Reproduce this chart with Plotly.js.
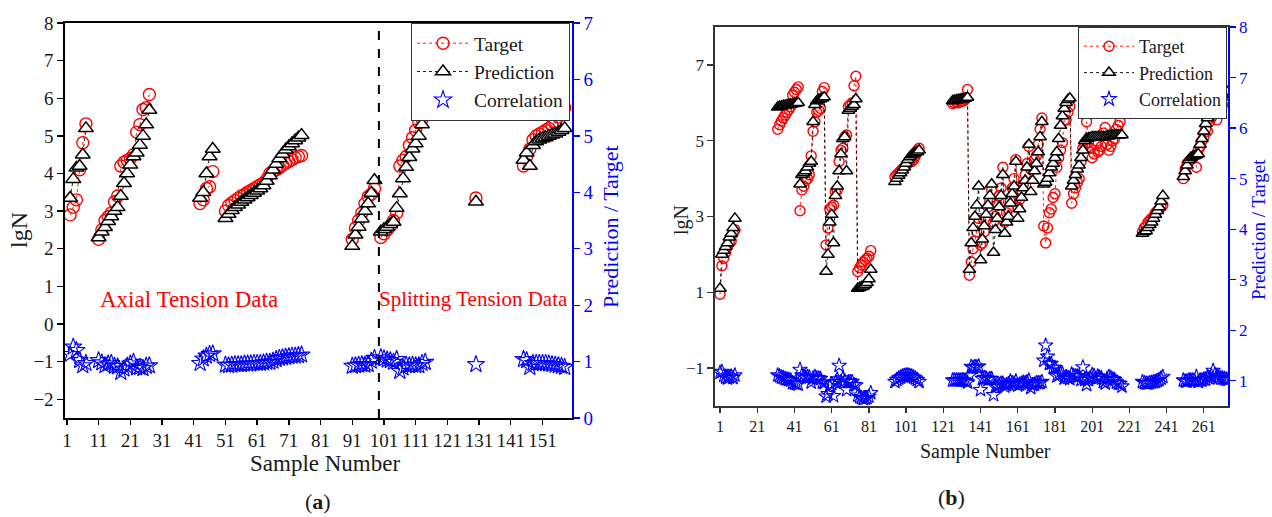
<!DOCTYPE html>
<html><head><meta charset="utf-8">
<script src="https://cdn.plot.ly/plotly-3.0.1.min.js"></script>
<style>html,body{margin:0;padding:0;background:#fff;}#chart{width:1272px;height:517px;}</style>
</head><body><div id="chart"></div>
<script>
// ---------- Panel (a) data: groups of consecutive samples ----------
const aStart = [2, 11, 43, 51, 91, 100, 130, 145];
const aTarget = [
  [2.9, 3.1, 3.3, 4.1, 4.82, 5.32],
  [2.25, 2.5, 2.75, 2.85, 2.95, 3.25, 3.4, 4.2, 4.3, 4.35, 4.4, 4.5, 5.1, 5.3, 5.7, 5.75, 6.1],
  [3.2, 3.3, 3.6, 3.65, 4.05],
  [3.0, 3.15, 3.22, 3.28, 3.34, 3.4, 3.44, 3.5, 3.55, 3.6, 3.65, 3.7, 3.75, 3.85, 4.0, 4.05, 4.1, 4.15, 4.22, 4.27, 4.32, 4.37, 4.42, 4.45, 4.48],
  [2.25, 2.55, 2.75, 2.95, 3.2, 3.38, 3.45, 3.6],
  [2.3, 2.4, 2.5, 2.6, 2.75, 2.95, 4.2, 4.35, 4.45, 4.75, 4.95, 5.15, 5.35, 5.45, 5.75],
  [3.35],
  [4.2, 4.45, 4.65, 4.9, 5.0, 5.05, 5.1, 5.15, 5.2, 5.28, 5.38, 5.5, 5.62, 5.75]
];
const aPred = [
  [3.35, 3.85, 4.15, 4.2, 4.5, 5.2],
  [2.3, 2.45, 2.57, 2.73, 2.86, 3.0, 3.1, 3.4, 3.74, 4.0, 4.23, 4.45, 4.55, 4.76, 5.0, 5.3, 5.69],
  [3.35, 3.5, 4.0, 4.45, 4.65],
  [2.81, 2.92, 3.02, 3.1, 3.17, 3.24, 3.3, 3.36, 3.42, 3.48, 3.54, 3.6, 3.68, 3.8, 3.95, 4.1, 4.25, 4.4, 4.52, 4.63, 4.72, 4.8, 4.88, 4.95, 5.02],
  [2.07, 2.37, 2.58, 2.8, 3.0, 3.2, 3.48, 3.82],
  [2.45, 2.52, 2.58, 2.65, 2.71, 3.08, 3.47, 3.87, 4.17, 4.43, 4.66, 4.8, 5.0, 5.3, 5.7],
  [3.25],
  [4.36, 4.55, 4.2, 4.75, 4.85, 4.9, 4.93, 4.96, 5.0, 5.03, 5.06, 5.1, 5.15, 5.2]
];
const aCorr = [
  [1.13, 1.26, 1.2, 1.02, 0.93, 0.97],
  [1.02, 0.98, 0.93, 0.96, 0.97, 0.92, 0.91, 0.81, 0.87, 0.92, 0.96, 0.99, 0.89, 0.9, 0.88, 0.92, 0.93],
  [0.97, 1.05, 1.1, 1.13, 1.14],
  [0.94, 0.93, 0.94, 0.95, 0.95, 0.95, 0.96, 0.96, 0.96, 0.97, 0.97, 0.97, 0.98, 0.99, 0.99, 1.01, 1.04, 1.06, 1.07, 1.08, 1.09, 1.1, 1.1, 1.11, 1.12],
  [0.92, 0.93, 0.94, 0.95, 0.94, 0.95, 1.01, 1.06],
  [1.07, 1.05, 1.03, 1.02, 0.99, 1.04, 0.83, 0.89, 0.94, 0.93, 0.94, 0.93, 0.93, 0.97, 0.99],
  [0.95],
  [1.04, 1.02, 0.9, 0.97, 0.97, 0.97, 0.97, 0.97, 0.96, 0.95, 0.94, 0.93, 0.92, 0.9]
];
const aTicks = [1, 11, 21, 31, 41, 51, 61, 71, 81, 91, 101, 111, 121, 131, 141, 151];
const aDivider = 99.4;

// ---------- Panel (b) data ----------
const bStart = [1, 32, 44, 95, 126, 228, 250];
const bTarget = [
  [0.95, 1.7, 1.9, 2.05, 2.2, 2.3, 2.35, 2.55, 2.65],
  [5.3, 5.42, 5.52, 5.6, 5.68, 5.75, 5.82, 5.9, 6.2, 6.28, 6.35, 6.42],
  [3.15, 3.7, 3.8, 3.95, 4.0, 4.1, 4.6, 5.25, 5.5, 5.75, 5.8, 5.85, 6.3, 6.4,
   2.25, 2.7, 3.2, 3.25, 3.3, 3.65, 3.7, 4.45, 4.75, 4.8, 5.1, 5.15, 5.9, 5.95, 6.0, 6.45, 6.7,
   1.55, 1.65, 1.72, 1.8, 1.85, 1.9, 1.95, 2.1],
  [4.05, 4.1, 4.15, 4.2, 4.25, 4.3, 4.35, 4.4, 4.45, 4.45, 4.5, 4.6, 4.75, 4.8],
  [5.98, 6.0, 6.02, 6.0, 6.02, 6.05, 6.05, 6.1, 6.35,
   1.45, 1.8, 2.15, 2.35, 2.6, 2.95,
   2.25, 2.3, 2.6, 2.9, 3.25, 3.4, 3.7,
   2.85, 3.0, 3.3, 3.55, 3.75, 4.3,
   2.85, 3.1, 3.2, 3.4, 3.75, 4.0, 4.5,
   3.25, 3.45, 3.7, 3.85, 4.1, 4.4, 4.85,
   4.25, 4.3, 4.5, 4.6, 4.9, 5.3, 5.6,
   2.75, 2.3, 2.7, 3.1, 3.2, 3.5, 3.6, 4.3, 4.55, 4.75, 4.95, 5.55, 5.55, 5.75, 5.9,
   3.35, 3.6, 3.75, 3.9, 4.0, 4.45, 4.8, 4.9, 5.5, 4.95, 4.8, 4.55, 4.65, 4.9, 4.7, 4.75, 4.85, 5.2, 5.35, 4.9,
   4.75, 4.85, 5.0, 5.05, 5.3, 5.4, 5.5, 5.8],
  [2.6, 2.7, 2.75, 2.85, 2.9, 2.95, 3.0, 3.1, 3.15, 3.2, 3.25, 3.3],
  [4.0, 4.25, 4.4, 4.45, 4.5, 4.55, 4.6, 4.3, 4.75, 4.85, 5.0, 5.1, 5.3, 5.25, 5.5, 5.6, 5.7, 5.8, 5.55, 5.75,
   5.9, 5.95, 6.0, 6.1, 6.2]
];
const bPred = [
  [1.1, 2.0, 2.1, 2.2, 2.3, 2.45, 2.55, 2.7, 2.95],
  [5.88, 5.9, 5.91, 5.92, 5.93, 5.94, 5.95, 5.96, 5.97, 5.98, 5.99, 6.0],
  [3.85, 4.1, 4.15, 4.2, 4.3, 4.4, 4.45, 5.5, 5.95, 6.05, 6.08, 6.1, 6.12, 6.15,
   1.55, 2.0, 2.85, 3.05, 2.3, 3.55, 3.8, 4.2, 4.65, 5.05, 5.1, 4.2, 5.8, 5.85, 5.9, 5.95, 6.1,
   1.1, 1.12, 1.14, 1.16, 1.2, 1.25, 1.35, 1.6],
  [3.92, 4.0, 4.08, 4.15, 4.22, 4.3, 4.4, 4.5, 4.57, 4.62, 4.65, 4.68, 4.7, 4.75],
  [6.05, 6.06, 6.07, 6.08, 6.09, 6.1, 6.11, 6.12, 6.14,
   1.6, 2.3, 2.7, 3.0, 3.3, 3.8,
   1.85, 2.4, 2.75, 3.05, 3.3, 3.55, 3.85,
   2.05, 2.65, 2.95, 3.25, 3.55, 4.1,
   2.55, 2.85, 3.0, 3.35, 3.6, 3.8, 4.45,
   2.95, 3.2, 3.5, 3.75, 3.95, 4.3, 4.9,
   3.65, 3.95, 4.2, 4.4, 4.7, 5.1, 5.5,
   3.85, 3.9, 4.0, 4.15, 4.3, 4.4, 4.55, 4.7, 5.05, 5.4, 5.65, 5.85, 6.0, 6.08, 6.12,
   3.8, 3.95, 4.1, 4.25, 4.35, 4.55, 4.75, 5.0, 5.05, 5.07, 5.08, 5.1, 5.1, 5.1, 5.1, 5.1, 5.1, 5.1, 5.1, 5.12,
   5.12, 5.14, 5.14, 5.15, 5.15, 5.15, 5.15, 5.15],
  [2.55, 2.6, 2.62, 2.7, 2.78, 2.85, 2.95, 3.05, 3.15, 3.25, 3.4, 3.55],
  [4.05, 4.2, 4.35, 4.5, 4.55, 4.58, 4.6, 4.62, 4.65, 4.9, 5.05, 5.25, 5.45, 5.6, 5.75, 5.85, 5.95, 6.05, 6.1, 6.15,
   6.2, 6.22, 6.25, 6.28, 6.3]
];
const bCorr = [
  [1.16, 1.18, 1.1, 1.07, 1.05, 1.07, 1.09, 1.06, 1.11],
  [1.11, 1.09, 1.07, 1.06, 1.04, 1.03, 1.02, 1.01, 0.96, 0.95, 0.94, 0.93],
  [1.22, 1.11, 1.09, 1.06, 1.08, 1.07, 0.97, 1.05, 1.08, 1.05, 1.05, 1.04, 0.97, 0.96,
   0.69, 0.74, 0.89, 0.94, 0.7, 0.97, 1.03, 1.3, 0.98, 1.05, 1.0, 0.82, 0.98, 0.98, 0.98, 0.92, 0.91,
   0.71, 0.68, 0.66, 0.64, 0.65, 0.66, 0.69, 0.76],
  [0.98, 1.02, 1.05, 1.07, 1.09, 1.1, 1.11, 1.11, 1.1, 1.09, 1.07, 1.05, 1.02, 0.98],
  [1.01, 1.01, 1.01, 1.01, 1.01, 1.01, 1.01, 1.0, 0.97,
   1.1, 1.28, 1.26, 1.28, 1.27, 1.29,
   0.82, 1.04, 1.06, 1.05, 1.02, 1.04, 1.04,
   0.72, 0.88, 0.89, 0.92, 0.95, 0.95,
   0.89, 0.92, 0.94, 0.99, 0.96, 0.95, 0.99,
   0.91, 0.93, 0.95, 0.97, 0.96, 0.98, 1.01,
   0.86, 0.92, 0.93, 0.96, 0.96, 0.96, 0.98,
   1.4, 1.7, 1.48, 1.34, 1.34, 1.26, 1.26, 1.09, 1.11, 1.14, 1.14, 1.05, 1.08, 1.06, 1.04,
   1.13, 1.1, 1.09, 1.09, 1.09, 1.02, 1.27, 1.02, 0.92, 1.02, 1.06, 1.12, 1.1, 1.04, 1.09, 1.07, 1.05, 0.98, 0.95, 1.04,
   1.08, 1.06, 1.03, 1.02, 0.97, 0.95, 0.94, 0.89],
  [0.98, 0.96, 0.95, 0.95, 0.96, 0.97, 0.98, 0.98, 1.0, 1.02, 1.05, 1.08],
  [1.01, 0.99, 0.99, 1.01, 1.01, 1.01, 1.0, 1.08, 0.98, 1.01, 1.01, 1.03, 1.03, 1.07,
   1.05, 1.1, 1.2, 1.12, 1.1, 1.07, 1.05, 1.05, 1.04, 1.03, 1.02]
];
const bTicks = [1, 21, 41, 61, 81, 101, 121, 141, 161, 181, 201, 221, 241, 261];

// ---------- helpers ----------
function series(starts, groups) {
  const x = [], y = [];
  groups.forEach((g, i) => {
    if (i > 0) { x.push(null); y.push(null); }
    g.forEach((v, j) => { x.push(starts[i] + j); y.push(v); });
  });
  return {x, y};
}
const W = 1272, H = 517;
const fx = p => p / W;
const fy = p => 1 - p / H;
const SERIF = '"Liberation Serif", "DejaVu Serif", serif';
const INK = '#1a1a1a';

function makeTraces(starts, tg, pd, cr, xa, ya, ya2, leg, s) {
  const t = series(starts, tg), p = series(starts, pd), c = series(starts, cr);
  return [
    {x: t.x, y: t.y, xaxis: xa, yaxis: ya, name: 'Target', legend: leg, type: 'scatter', mode: 'lines+markers',
     line: {color: 'red', width: 0.9, dash: 'dot'},
     marker: {symbol: 'circle-open', size: s.c, color: 'red', line: {color: 'red', width: 1.4}}},
    {x: p.x, y: p.y, xaxis: xa, yaxis: ya, name: 'Prediction', legend: leg, type: 'scatter', mode: 'lines+markers',
     line: {color: 'black', width: 0.9, dash: 'dot'},
     marker: {symbol: 'triangle-up', size: s.t, color: 'white', line: {color: 'black', width: 1.5}}},
    {x: c.x, y: c.y, xaxis: xa, yaxis: ya2, name: 'Correlation', legend: leg, type: 'scatter', mode: 'markers',
     marker: {symbol: 'star-open', size: s.s, color: 'blue', line: {color: 'blue', width: 1.1}}}
  ];
}

const traces = [
  ...makeTraces(aStart, aTarget, aPred, aCorr, 'x', 'y', 'y2', 'legend', {c: 12, t: 13, s: 13}),
  ...makeTraces(bStart, bTarget, bPred, bCorr, 'x3', 'y3', 'y4', 'legend2', {c: 10, t: 11, s: 11})
];

function xAxis(dom, range, ticks, anchor, fs, lc) {
  return {domain: dom, range: range, tickvals: ticks, ticktext: ticks.map(String), anchor: anchor,
    ticks: 'outside', ticklen: 5, tickwidth: 1.3, tickcolor: lc, showline: true, linecolor: lc, linewidth: 1.6,
    mirror: true, showgrid: false, zeroline: false, tickfont: {family: SERIF, size: fs, color: INK}};
}
function yAxis(dom, range, tv, anchor, fs, lc) {
  return {domain: dom, range: range, tickvals: tv, anchor: anchor,
    ticks: 'outside', ticklen: 6, tickwidth: 1.3, tickcolor: lc, showline: true, linecolor: lc, linewidth: 1.6,
    showgrid: false, zeroline: false, tickfont: {family: SERIF, size: fs, color: INK}};
}
function rAxis(over, anchor, range, tv, fs) {
  return {overlaying: over, anchor: anchor, side: 'right', range: range, tickvals: tv,
    ticks: 'outside', ticklen: 6, tickwidth: 1.3, tickcolor: 'blue', showline: true, linecolor: 'blue', linewidth: 1.6,
    showgrid: false, zeroline: false, tickfont: {family: SERIF, size: fs, color: 'blue'}};
}

function ann(text, x, y, size, color, angle) {
  return {text: text, xref: 'paper', yref: 'paper', x: fx(x), y: fy(y), xanchor: 'center', yanchor: 'middle',
    showarrow: false, textangle: angle || 0, font: {family: SERIF, size: size, color: color}};
}

const layout = {
  width: W, height: H, margin: {l: 0, r: 0, t: 0, b: 0}, autosize: false,
  paper_bgcolor: 'white', plot_bgcolor: 'rgba(0,0,0,0)', showlegend: true,
  font: {family: SERIF, color: INK},
  xaxis: xAxis([fx(65), fx(572)], [0.4, 160.3], aTicks, 'y', 19, '#000'),
  yaxis: yAxis([fy(418), fy(23)], [-2.5, 8.001], [-2, -1, 0, 1, 2, 3, 4, 5, 6, 7, 8], 'x', 19, '#000'),
  yaxis2: rAxis('y', 'x', [0, 7.001], [0, 1, 2, 3, 4, 5, 6, 7], 19),
  xaxis3: xAxis([fx(715), fx(1228)], [-1.7, 274], bTicks, 'y3', 16, '#333'),
  yaxis3: yAxis([fy(406), fy(27)], [-2, 8], [-1, 1, 3, 5, 7], 'x3', 17, '#333'),
  yaxis4: rAxis('y3', 'x3', [0.5, 8.001], [1, 2, 3, 4, 5, 6, 7, 8], 17),
  legend: {x: fx(570), xanchor: 'right', y: fy(23), yanchor: 'top', bgcolor: 'white', bordercolor: '#333', borderwidth: 1,
    font: {family: SERIF, size: 19.5, color: INK}, tracegroupgap: 0, itemwidth: 52},
  legend2: {x: fx(1227), xanchor: 'right', y: fy(27), yanchor: 'top', bgcolor: 'white', bordercolor: '#333', borderwidth: 1,
    font: {family: SERIF, size: 18, color: INK}, tracegroupgap: 0, itemwidth: 50},
  shapes: [
    {type: 'line', xref: 'x', yref: 'y', x0: aDivider, x1: aDivider, y0: -2.5, y1: 7.9,
     line: {color: 'black', width: 2, dash: 'dash'}}
  ],
  annotations: [
    ann('lgN', 19, 230, 24, INK, -90),
    ann('Prediction / Target', 611, 227, 22, 'blue', -90),
    ann('Sample Number', 325, 463, 23, INK, 0),
    ann('(<b>a</b>)', 318, 501, 22, INK, 0),
    ann('Axial Tension Data', 189, 299, 23, 'red', 0),
    ann('Splitting Tension Data', 474, 299, 21, 'red', 0),
    ann('lgN', 682, 220, 20, INK, -90),
    ann('Prediction / Target', 1259, 230, 19, 'blue', -90),
    ann('Sample Number', 985, 451, 20, INK, 0),
    ann('(<b>b</b>)', 951, 497, 22, INK, 0)
  ]
};

Plotly.newPlot('chart', traces, layout, {displayModeBar: false, staticPlot: true});
</script>
</body></html>
